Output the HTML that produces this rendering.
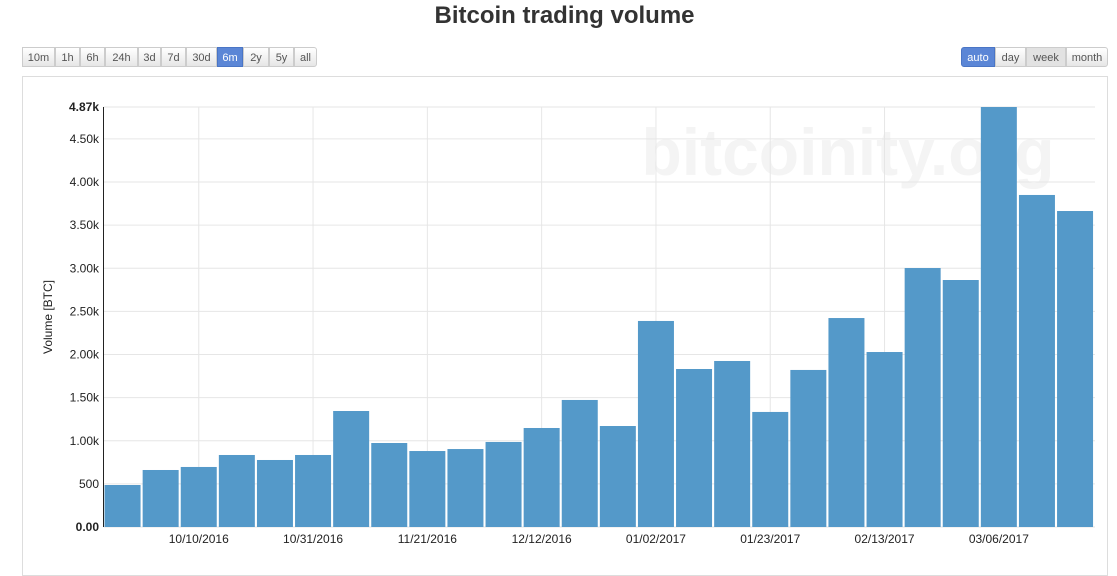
<!DOCTYPE html>
<html><head><meta charset="utf-8"><style>
body{margin:0;width:1117px;height:559px;background:#fff;font-family:"Liberation Sans",sans-serif;overflow:hidden;position:relative}
#title{position:absolute;left:0;width:1129px;top:2px;text-align:center;font-size:24px;font-weight:bold;color:#333}
.btn{position:absolute;top:47px;height:20px;line-height:20px;font-size:11px;text-align:center;color:#555;background:linear-gradient(#fff,#e6e6e6);border:1px solid #ccc;box-sizing:border-box}
.btn.on{background:#5b86d6;color:#fff;border-color:#4a75c5}
.btn.sel{background:#e2e2e2}
#box{position:absolute;left:22px;top:76px;width:1086px;height:500px;border:1px solid #ddd;box-sizing:border-box}
svg{position:absolute;left:0;top:0}
</style></head><body>
<div id="title">Bitcoin trading volume</div>
<div class="btn" style="left:22px;width:33px">10m</div>
<div class="btn" style="left:55px;width:25px">1h</div>
<div class="btn" style="left:80px;width:25px">6h</div>
<div class="btn" style="left:105px;width:33px">24h</div>
<div class="btn" style="left:138px;width:23px">3d</div>
<div class="btn" style="left:161px;width:25px">7d</div>
<div class="btn" style="left:186px;width:31px">30d</div>
<div class="btn on" style="left:217px;width:26px">6m</div>
<div class="btn" style="left:243px;width:26px">2y</div>
<div class="btn" style="left:269px;width:25px">5y</div>
<div class="btn" style="left:294px;width:23px;border-radius:0 3px 3px 0">all</div>
<div class="btn on" style="left:961px;width:34px;border-radius:3px 0 0 3px">auto</div>
<div class="btn" style="left:995px;width:31px">day</div>
<div class="btn sel" style="left:1026px;width:40px">week</div>
<div class="btn" style="left:1066px;width:42px;border-radius:0 3px 3px 0">month</div>
<div id="box"></div>
<svg id="chart" width="1117" height="559"></svg>
<script>
const values=[487,661,696,835,777,835,1345,974,881,904,986,1148,1473,1171,2389,1832,1925,1334,1821,2423,2029,3003,2864,4870,3850,3664];
const yTicks=[0,500,1000,1500,2000,2500,3000,3500,4000,4500,4870];
const yTickLabels=["0.00","500","1.00k","1.50k","2.00k","2.50k","3.00k","3.50k","4.00k","4.50k","4.87k"];
const xLabelIdx=[2,5,8,11,14,17,20,23];
const xLabels=["10/10/2016","10/31/2016","11/21/2016","12/12/2016","01/02/2017","01/23/2017","02/13/2017","03/06/2017"];
const NS="http://www.w3.org/2000/svg";
const svg=document.getElementById('chart');
const y0=527,yTop=107,yMax=4870,x0=103.5,slot=38.1,xEnd=1095;
const Y=v=>y0-(v/yMax)*(y0-yTop);
const XC=i=>x0+slot*(i+0.5);
function mk(t,a){const e=document.createElementNS(NS,t);for(const k in a)e.setAttribute(k,a[k]);svg.appendChild(e);return e;}
// watermark
let w=mk('text',{x:848,y:175,'text-anchor':'middle','font-size':66,'font-weight':'bold',fill:'#f4f4f4'});
w.textContent='bitcoinity.org';


yTicks.forEach((t,i)=>{
  const y=Y(t);
  const g=mk('line',{x1:x0,x2:xEnd,y1:y,y2:y,stroke:'#e6e6e6'});
  
  
  const l=mk('text',{x:99,y:y+4,'text-anchor':'end','font-size':12,fill:'#222','font-weight':(i==0||i==yTicks.length-1)?'bold':'normal'});
  l.textContent=yTickLabels[i];
  
  
});
xLabelIdx.forEach((b,i)=>{
  const x=XC(b);
  const g=mk('line',{x1:x,x2:x,y1:yTop,y2:y0,stroke:'#e6e6e6'});
  
  
  const l=mk('text',{x:x,y:543,'text-anchor':'middle','font-size':12,fill:'#222'});
  l.textContent=xLabels[i];
  
  
});
values.forEach((v,i)=>{
  const r=mk('rect',{x:XC(i)-18,y:Y(v),width:36,height:y0-Y(v),fill:'#5499c9'});
  
  
});
let ax=mk('line',{x1:x0,x2:x0,y1:yTop,y2:y0,stroke:'#222'});


let yt=mk('text',{x:52,y:317,'text-anchor':'middle','font-size':12,fill:'#222',transform:'rotate(-90 52 317)'});
yt.textContent='Volume [BTC]';


</script>
</body></html>
